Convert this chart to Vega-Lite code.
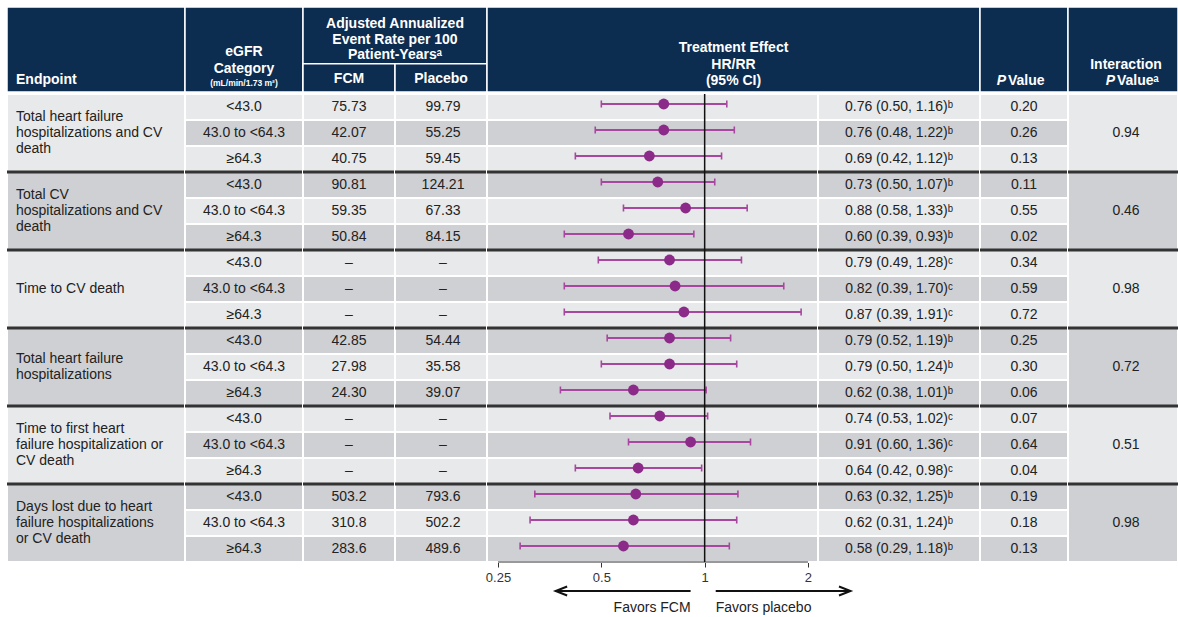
{
"$schema": "https://vega.github.io/schema/vega-lite/v6.json",
"padding": {"left": 5, "top": 6, "right": 0, "bottom": 0},
"background": "white",
"config": {
  "view": {"stroke": null},
  "font": "Liberation Sans",
  "concat": {"spacing": 0},
  "text": {"font": "Liberation Sans", "fontSize": 14, "color": "#222222", "lineBreak": "\n"}
},
"datasets": {
  "rows": [
    {"row": 1, "grp": 1, "sub": "<43.0", "fcm": "75.73", "pbo": "99.79", "hr": 0.76, "lo": 0.50, "hi": 1.16, "est": "0.76 (0.50, 1.16)ᵇ", "p": "0.20"},
    {"row": 2, "grp": 1, "sub": "43.0 to <64.3", "fcm": "42.07", "pbo": "55.25", "hr": 0.76, "lo": 0.48, "hi": 1.22, "est": "0.76 (0.48, 1.22)ᵇ", "p": "0.26"},
    {"row": 3, "grp": 1, "sub": "≥64.3", "fcm": "40.75", "pbo": "59.45", "hr": 0.69, "lo": 0.42, "hi": 1.12, "est": "0.69 (0.42, 1.12)ᵇ", "p": "0.13"},
    {"row": 4, "grp": 2, "sub": "<43.0", "fcm": "90.81", "pbo": "124.21", "hr": 0.73, "lo": 0.50, "hi": 1.07, "est": "0.73 (0.50, 1.07)ᵇ", "p": "0.11"},
    {"row": 5, "grp": 2, "sub": "43.0 to <64.3", "fcm": "59.35", "pbo": "67.33", "hr": 0.88, "lo": 0.58, "hi": 1.33, "est": "0.88 (0.58, 1.33)ᵇ", "p": "0.55"},
    {"row": 6, "grp": 2, "sub": "≥64.3", "fcm": "50.84", "pbo": "84.15", "hr": 0.60, "lo": 0.39, "hi": 0.93, "est": "0.60 (0.39, 0.93)ᵇ", "p": "0.02"},
    {"row": 7, "grp": 3, "sub": "<43.0", "fcm": "–", "pbo": "–", "hr": 0.79, "lo": 0.49, "hi": 1.28, "est": "0.79 (0.49, 1.28)ᶜ", "p": "0.34"},
    {"row": 8, "grp": 3, "sub": "43.0 to <64.3", "fcm": "–", "pbo": "–", "hr": 0.82, "lo": 0.39, "hi": 1.70, "est": "0.82 (0.39, 1.70)ᶜ", "p": "0.59"},
    {"row": 9, "grp": 3, "sub": "≥64.3", "fcm": "–", "pbo": "–", "hr": 0.87, "lo": 0.39, "hi": 1.91, "est": "0.87 (0.39, 1.91)ᶜ", "p": "0.72"},
    {"row": 10, "grp": 4, "sub": "<43.0", "fcm": "42.85", "pbo": "54.44", "hr": 0.79, "lo": 0.52, "hi": 1.19, "est": "0.79 (0.52, 1.19)ᵇ", "p": "0.25"},
    {"row": 11, "grp": 4, "sub": "43.0 to <64.3", "fcm": "27.98", "pbo": "35.58", "hr": 0.79, "lo": 0.50, "hi": 1.24, "est": "0.79 (0.50, 1.24)ᵇ", "p": "0.30"},
    {"row": 12, "grp": 4, "sub": "≥64.3", "fcm": "24.30", "pbo": "39.07", "hr": 0.62, "lo": 0.38, "hi": 1.01, "est": "0.62 (0.38, 1.01)ᵇ", "p": "0.06"},
    {"row": 13, "grp": 5, "sub": "<43.0", "fcm": "–", "pbo": "–", "hr": 0.74, "lo": 0.53, "hi": 1.02, "est": "0.74 (0.53, 1.02)ᶜ", "p": "0.07"},
    {"row": 14, "grp": 5, "sub": "43.0 to <64.3", "fcm": "–", "pbo": "–", "hr": 0.91, "lo": 0.60, "hi": 1.36, "est": "0.91 (0.60, 1.36)ᶜ", "p": "0.64"},
    {"row": 15, "grp": 5, "sub": "≥64.3", "fcm": "–", "pbo": "–", "hr": 0.64, "lo": 0.42, "hi": 0.98, "est": "0.64 (0.42, 0.98)ᶜ", "p": "0.04"},
    {"row": 16, "grp": 6, "sub": "<43.0", "fcm": "503.2", "pbo": "793.6", "hr": 0.63, "lo": 0.32, "hi": 1.25, "est": "0.63 (0.32, 1.25)ᵇ", "p": "0.19"},
    {"row": 17, "grp": 6, "sub": "43.0 to <64.3", "fcm": "310.8", "pbo": "502.2", "hr": 0.62, "lo": 0.31, "hi": 1.24, "est": "0.62 (0.31, 1.24)ᵇ", "p": "0.18"},
    {"row": 18, "grp": 6, "sub": "≥64.3", "fcm": "283.6", "pbo": "489.6", "hr": 0.58, "lo": 0.29, "hi": 1.18, "est": "0.58 (0.29, 1.18)ᵇ", "p": "0.13"}
  ],
  "groups": [
    {"grp": 1, "nl": 3, "endpoint": "Total heart failure\nhospitalizations and CV\ndeath", "pint": "0.94"},
    {"grp": 2, "nl": 3, "endpoint": "Total CV\nhospitalizations and CV\ndeath", "pint": "0.46"},
    {"grp": 3, "nl": 1, "endpoint": "Time to CV death", "pint": "0.98"},
    {"grp": 4, "nl": 2, "endpoint": "Total heart failure\nhospitalizations", "pint": "0.72"},
    {"grp": 5, "nl": 3, "endpoint": "Time to first heart\nfailure hospitalization or\nCV death", "pint": "0.51"},
    {"grp": 6, "nl": 3, "endpoint": "Days lost due to heart\nfailure hospitalizations\nor CV death", "pint": "0.98"}
  ],
  "hdr": [
    {"col": "endpoint", "text": "Endpoint"},
    {"col": "egfr", "text": "eGFR\nCategory"},
    {"col": "egfrunit", "text": "(mL/min/1.73 m²)"},
    {"col": "rates", "text": "Adjusted Annualized\nEvent Rate per 100\nPatient-Yearsᵃ"},
    {"col": "fcm", "text": "FCM"},
    {"col": "placebo", "text": "Placebo"},
    {"col": "effect", "text": "Treatment Effect\nHR/RR\n(95% CI)"},
    {"col": "p", "text": "P"},
    {"col": "pv", "text": "Value"},
    {"col": "int", "text": "Interaction"},
    {"col": "intp", "text": "P"},
    {"col": "intpv", "text": "Valueᵃ"}
  ],
  "ref": [{"hr": 1}],
  "foot": [
    {"part": "arrow", "side": "FCM", "from": 0.91, "to": 0.368},
    {"part": "arrow", "side": "placebo", "from": 1.077, "to": 2.66},
    {"part": "label", "side": "FCM", "text": "Favors FCM", "at": 0.91},
    {"part": "label", "side": "placebo", "text": "Favors placebo", "at": 1.077}
  ]
},
"vconcat": [
  {
    "hconcat": [
      {
        "width": 178, "height": 85,
        "view": {"fill": "#0c2c50", "stroke": "white", "strokeWidth": 1.5},
        "data": {"name": "hdr"},
        "transform": [{"filter": "datum.col === 'endpoint'"}],
        "mark": {"type": "text", "align": "left", "dx": -80, "dy": 30.5, "fontWeight": "bold", "fontSize": 14, "color": "white"},
        "encoding": {"text": {"field": "text"}}
      },
      {
        "width": 118, "height": 85,
        "view": {"fill": "#0c2c50", "stroke": "white", "strokeWidth": 1.5},
        "data": {"name": "hdr"},
        "layer": [
          {
            "transform": [{"filter": "datum.col === 'egfr'"}],
            "mark": {"type": "text", "dy": 2.2, "lineHeight": 17.6, "fontWeight": "bold", "fontSize": 14, "color": "white"},
            "encoding": {"text": {"field": "text"}}
          },
          {
            "transform": [{"filter": "datum.col === 'egfrunit'"}],
            "mark": {"type": "text", "dy": 33.8, "fontWeight": "bold", "fontSize": 8.5, "color": "white"},
            "encoding": {"text": {"field": "text"}}
          }
        ]
      },
      {
        "width": 184, "height": 85,
        "view": {"fill": "#0c2c50", "stroke": "white", "strokeWidth": 1.5},
        "data": {"name": "hdr"},
        "layer": [
          {
            "transform": [{"filter": "datum.col === 'rates'"}],
            "mark": {"type": "text", "dy": -25.5, "lineHeight": 15.6, "fontWeight": "bold", "fontSize": 14, "color": "white"},
            "encoding": {"text": {"field": "text"}}
          },
          {
            "transform": [{"filter": "datum.col === 'fcm' || datum.col === 'placebo'"}],
            "mark": {"type": "rect", "fill": "#0c2c50", "stroke": "white", "strokeWidth": 1.5},
            "encoding": {
              "x": {"field": "col", "type": "nominal", "scale": {"domain": ["fcm", "placebo"], "paddingInner": 0, "paddingOuter": 0}, "axis": null},
              "y": {"datum": "sub", "type": "nominal", "scale": {"domain": ["t1", "t2", "sub"], "paddingInner": 0, "paddingOuter": 0}, "axis": null}
            }
          },
          {
            "transform": [{"filter": "datum.col === 'fcm' || datum.col === 'placebo'"}],
            "mark": {"type": "text", "dy": 1.5, "fontWeight": "bold", "fontSize": 14, "color": "white"},
            "encoding": {
              "x": {"field": "col", "type": "nominal", "axis": null},
              "y": {"datum": "sub", "type": "nominal", "axis": null},
              "text": {"field": "text"}
            }
          }
        ]
      },
      {
        "width": 493, "height": 85,
        "view": {"fill": "#0c2c50", "stroke": "white", "strokeWidth": 1.5},
        "data": {"name": "hdr"},
        "transform": [{"filter": "datum.col === 'effect'"}],
        "mark": {"type": "text", "dy": -1.2, "lineHeight": 16.4, "fontWeight": "bold", "fontSize": 14, "color": "white"},
        "encoding": {"text": {"field": "text"}}
      },
      {
        "width": 88, "height": 85,
        "view": {"fill": "#0c2c50", "stroke": "white", "strokeWidth": 1.5},
        "data": {"name": "hdr"},
        "layer": [
          {
            "transform": [{"filter": "datum.col === 'p'"}],
            "mark": {"type": "text", "align": "right", "dx": -18, "dy": 31.5, "fontWeight": "bold", "fontStyle": "italic", "fontSize": 14, "color": "white"},
            "encoding": {"text": {"field": "text"}}
          },
          {
            "transform": [{"filter": "datum.col === 'pv'"}],
            "mark": {"type": "text", "align": "left", "dx": -16, "dy": 31.5, "fontWeight": "bold", "fontSize": 14, "color": "white"},
            "encoding": {"text": {"field": "text"}}
          }
        ]
      },
      {
        "width": 110, "height": 85,
        "view": {"fill": "#0c2c50", "stroke": "white", "strokeWidth": 1.5},
        "data": {"name": "hdr"},
        "layer": [
          {
            "transform": [{"filter": "datum.col === 'int'"}],
            "mark": {"type": "text", "dx": 3, "dy": 15.5, "fontWeight": "bold", "fontSize": 14, "color": "white"},
            "encoding": {"text": {"field": "text"}}
          },
          {
            "transform": [{"filter": "datum.col === 'intp'"}],
            "mark": {"type": "text", "align": "right", "dx": -8, "dy": 31.5, "fontWeight": "bold", "fontStyle": "italic", "fontSize": 14, "color": "white"},
            "encoding": {"text": {"field": "text"}}
          },
          {
            "transform": [{"filter": "datum.col === 'intpv'"}],
            "mark": {"type": "text", "align": "left", "dx": -6, "dy": 31.5, "fontWeight": "bold", "fontSize": 14, "color": "white"},
            "encoding": {"text": {"field": "text"}}
          }
        ]
      }
    ],
    "spacing": 0, "bounds": "flush"
  },
  {
    "hconcat": [
      {
        "width": 178, "height": 468,
        "data": {"name": "groups"},
        "layer": [
          {
            "mark": {"type": "rect", "stroke": "white", "strokeWidth": 2},
            "encoding": {
              "y": {"field": "grp", "type": "ordinal", "scale": {"domain": [1,2,3,4,5,6], "paddingInner": 0, "paddingOuter": 0}, "axis": null},
              "fill": {"condition": {"test": "datum.grp % 2 === 0", "value": "#cfd0d3"}, "value": "#e8e9ea"}
            }
          },
          {
            "transform": [{"filter": "datum.nl === 3"}],
            "mark": {"type": "text", "align": "left", "dx": -80, "dy": -16, "lineHeight": 16.2, "fontSize": 14, "color": "#222222"},
            "encoding": {
              "y": {"field": "grp", "type": "ordinal", "axis": null},
              "text": {"field": "endpoint"}
            }
          },
          {
            "transform": [{"filter": "datum.nl === 2"}],
            "mark": {"type": "text", "align": "left", "dx": -80, "dy": -8, "lineHeight": 16.2, "fontSize": 14, "color": "#222222"},
            "encoding": {
              "y": {"field": "grp", "type": "ordinal", "axis": null},
              "text": {"field": "endpoint"}
            }
          },
          {
            "transform": [{"filter": "datum.nl === 1"}],
            "mark": {"type": "text", "align": "left", "dx": -80, "fontSize": 14, "color": "#222222"},
            "encoding": {
              "y": {"field": "grp", "type": "ordinal", "axis": null},
              "text": {"field": "endpoint"}
            }
          },
          {
            "transform": [{"filter": "datum.grp > 1"}],
            "mark": {"type": "rule", "color": "#333333", "strokeWidth": 3},
            "encoding": {
              "y": {"field": "grp", "type": "ordinal", "bandPosition": 0, "axis": null}
            }
          }
        ]
      },
      {
        "width": 118, "height": 468,
        "data": {"name": "rows"},
        "layer": [
          {
            "mark": {"type": "rect", "stroke": "white", "strokeWidth": 2},
            "encoding": {
              "y": {"field": "row", "type": "ordinal", "scale": {"domain": [1,2,3,4,5,6,7,8,9,10,11,12,13,14,15,16,17,18], "paddingInner": 0, "paddingOuter": 0}, "axis": null},
              "fill": {"condition": {"test": "datum.row % 2 === 0", "value": "#cfd0d3"}, "value": "#e8e9ea"}
            }
          },
          {
            "mark": {"type": "text", "fontSize": 14, "color": "#222222"},
            "encoding": {
              "y": {"field": "row", "type": "ordinal", "axis": null},
              "text": {"field": "sub"}
            }
          },
          {
            "transform": [{"filter": "datum.row > 1 && (datum.row - 1) % 3 === 0"}],
            "mark": {"type": "rule", "color": "#333333", "strokeWidth": 3},
            "encoding": {"y": {"field": "row", "type": "ordinal", "bandPosition": 0, "axis": null}}
          }
        ]
      },
      {
        "width": 92, "height": 468,
        "data": {"name": "rows"},
        "layer": [
          {
            "mark": {"type": "rect", "stroke": "white", "strokeWidth": 2},
            "encoding": {
              "y": {"field": "row", "type": "ordinal", "scale": {"domain": [1,2,3,4,5,6,7,8,9,10,11,12,13,14,15,16,17,18], "paddingInner": 0, "paddingOuter": 0}, "axis": null},
              "fill": {"condition": {"test": "datum.row % 2 === 0", "value": "#cfd0d3"}, "value": "#e8e9ea"}
            }
          },
          {
            "mark": {"type": "text", "fontSize": 14, "color": "#222222"},
            "encoding": {
              "y": {"field": "row", "type": "ordinal", "axis": null},
              "text": {"field": "fcm"}
            }
          },
          {
            "transform": [{"filter": "datum.row > 1 && (datum.row - 1) % 3 === 0"}],
            "mark": {"type": "rule", "color": "#333333", "strokeWidth": 3},
            "encoding": {"y": {"field": "row", "type": "ordinal", "bandPosition": 0, "axis": null}}
          }
        ]
      },
      {
        "width": 92, "height": 468,
        "data": {"name": "rows"},
        "layer": [
          {
            "mark": {"type": "rect", "stroke": "white", "strokeWidth": 2},
            "encoding": {
              "y": {"field": "row", "type": "ordinal", "scale": {"domain": [1,2,3,4,5,6,7,8,9,10,11,12,13,14,15,16,17,18], "paddingInner": 0, "paddingOuter": 0}, "axis": null},
              "fill": {"condition": {"test": "datum.row % 2 === 0", "value": "#cfd0d3"}, "value": "#e8e9ea"}
            }
          },
          {
            "mark": {"type": "text", "fontSize": 14, "color": "#222222", "dx": 2},
            "encoding": {
              "y": {"field": "row", "type": "ordinal", "axis": null},
              "text": {"field": "pbo"}
            }
          },
          {
            "transform": [{"filter": "datum.row > 1 && (datum.row - 1) % 3 === 0"}],
            "mark": {"type": "rule", "color": "#333333", "strokeWidth": 3},
            "encoding": {"y": {"field": "row", "type": "ordinal", "bandPosition": 0, "axis": null}}
          }
        ]
      },
      {
        "width": 331, "height": 468,
        "data": {"name": "rows"},
        "layer": [
          {
            "mark": {"type": "rect", "stroke": "white", "strokeWidth": 2},
            "encoding": {
              "y": {"field": "row", "type": "ordinal", "scale": {"domain": [1,2,3,4,5,6,7,8,9,10,11,12,13,14,15,16,17,18], "paddingInner": 0, "paddingOuter": 0}, "axis": null},
              "fill": {"condition": {"test": "datum.row % 2 === 0", "value": "#cfd0d3"}, "value": "#e8e9ea"}
            }
          },
          {
            "mark": {"type": "rule", "color": "#a8479f", "strokeWidth": 2, "yOffset": -3},
            "encoding": {
              "y": {"field": "row", "type": "ordinal", "axis": null},
              "x": {"field": "lo", "type": "quantitative",
                    "scale": {"type": "log", "domain": [0.2322, 2.139], "nice": false, "zero": false},
                    "axis": {"values": [0.25, 0.5, 1, 2], "format": "~g", "title": null, "domain": false, "grid": false, "ticks": true, "tickSize": 5, "tickColor": "#333333", "tickWidth": 1, "labelFontSize": 13, "labelColor": "#333333", "labelFont": "Liberation Sans", "labelPadding": 4}},
              "x2": {"field": "hi"}
            }
          },
          {
            "mark": {"type": "tick", "color": "#a8479f", "size": 7, "thickness": 1.6, "yOffset": -3, "opacity": 1},
            "encoding": {
              "y": {"field": "row", "type": "ordinal", "axis": null},
              "x": {"field": "lo", "type": "quantitative", "scale": {"type": "log", "domain": [0.2322, 2.139], "nice": false, "zero": false}, "axis": {"title": null}}
            }
          },
          {
            "mark": {"type": "tick", "color": "#a8479f", "size": 7, "thickness": 1.6, "yOffset": -3, "opacity": 1},
            "encoding": {
              "y": {"field": "row", "type": "ordinal", "axis": null},
              "x": {"field": "hi", "type": "quantitative", "scale": {"type": "log", "domain": [0.2322, 2.139], "nice": false, "zero": false}, "axis": {"title": null}}
            }
          },
          {
            "mark": {"type": "circle", "color": "#8c2a8a", "size": 118, "opacity": 1, "yOffset": -3},
            "encoding": {
              "y": {"field": "row", "type": "ordinal", "axis": null},
              "x": {"field": "hr", "type": "quantitative", "scale": {"type": "log", "domain": [0.2322, 2.139], "nice": false, "zero": false}, "axis": {"title": null}}
            }
          },
          {
            "transform": [{"filter": "datum.row > 1 && (datum.row - 1) % 3 === 0"}],
            "mark": {"type": "rule", "color": "#333333", "strokeWidth": 3},
            "encoding": {"y": {"field": "row", "type": "ordinal", "bandPosition": 0, "axis": null}}
          },
          {
            "transform": [{"filter": "datum.row === 18"}],
            "mark": {"type": "rule", "color": "#333333", "strokeWidth": 1},
            "encoding": {
              "y": {"field": "row", "type": "ordinal", "bandPosition": 1, "axis": null},
              "x": {"datum": 0.25, "type": "quantitative"},
              "x2": {"datum": 2}
            }
          },
          {
            "data": {"name": "ref"},
            "mark": {"type": "rule", "color": "#111111", "strokeWidth": 1.5},
            "encoding": {
              "x": {"field": "hr", "type": "quantitative", "scale": {"type": "log", "domain": [0.2322, 2.139], "nice": false, "zero": false}, "axis": {"title": null}}
            }
          }
        ]
      },
      {
        "width": 162, "height": 468,
        "data": {"name": "rows"},
        "layer": [
          {
            "mark": {"type": "rect", "stroke": "white", "strokeWidth": 2},
            "encoding": {
              "y": {"field": "row", "type": "ordinal", "scale": {"domain": [1,2,3,4,5,6,7,8,9,10,11,12,13,14,15,16,17,18], "paddingInner": 0, "paddingOuter": 0}, "axis": null},
              "fill": {"condition": {"test": "datum.row % 2 === 0", "value": "#cfd0d3"}, "value": "#e8e9ea"}
            }
          },
          {
            "mark": {"type": "text", "fontSize": 14, "color": "#222222"},
            "encoding": {
              "y": {"field": "row", "type": "ordinal", "axis": null},
              "text": {"field": "est"}
            }
          },
          {
            "transform": [{"filter": "datum.row > 1 && (datum.row - 1) % 3 === 0"}],
            "mark": {"type": "rule", "color": "#333333", "strokeWidth": 3},
            "encoding": {"y": {"field": "row", "type": "ordinal", "bandPosition": 0, "axis": null}}
          }
        ]
      },
      {
        "width": 88, "height": 468,
        "data": {"name": "rows"},
        "layer": [
          {
            "mark": {"type": "rect", "stroke": "white", "strokeWidth": 2},
            "encoding": {
              "y": {"field": "row", "type": "ordinal", "scale": {"domain": [1,2,3,4,5,6,7,8,9,10,11,12,13,14,15,16,17,18], "paddingInner": 0, "paddingOuter": 0}, "axis": null},
              "fill": {"condition": {"test": "datum.row % 2 === 0", "value": "#cfd0d3"}, "value": "#e8e9ea"}
            }
          },
          {
            "mark": {"type": "text", "fontSize": 14, "color": "#222222"},
            "encoding": {
              "y": {"field": "row", "type": "ordinal", "axis": null},
              "text": {"field": "p"}
            }
          },
          {
            "transform": [{"filter": "datum.row > 1 && (datum.row - 1) % 3 === 0"}],
            "mark": {"type": "rule", "color": "#333333", "strokeWidth": 3},
            "encoding": {"y": {"field": "row", "type": "ordinal", "bandPosition": 0, "axis": null}}
          }
        ]
      },
      {
        "width": 110, "height": 468,
        "data": {"name": "groups"},
        "layer": [
          {
            "mark": {"type": "rect", "stroke": "white", "strokeWidth": 2},
            "encoding": {
              "y": {"field": "grp", "type": "ordinal", "scale": {"domain": [1,2,3,4,5,6], "paddingInner": 0, "paddingOuter": 0}, "axis": null},
              "fill": {"condition": {"test": "datum.grp % 2 === 0", "value": "#cfd0d3"}, "value": "#e8e9ea"}
            }
          },
          {
            "mark": {"type": "text", "dx": 3, "fontSize": 14, "color": "#222222"},
            "encoding": {
              "y": {"field": "grp", "type": "ordinal", "axis": null},
              "text": {"field": "pint"}
            }
          },
          {
            "transform": [{"filter": "datum.grp > 1"}],
            "mark": {"type": "rule", "color": "#333333", "strokeWidth": 3},
            "encoding": {"y": {"field": "grp", "type": "ordinal", "bandPosition": 0, "axis": null}}
          }
        ]
      }
    ],
    "spacing": 0, "bounds": "flush"
  },
  {
    "hconcat": [
      {
        "width": 480, "height": 28,
        "data": {"values": [{}]},
        "mark": {"type": "text", "opacity": 0},
        "encoding": {}
      },
      {
        "width": 331, "height": 28,
        "data": {"name": "foot"},
        "layer": [
          {
            "transform": [{"filter": "datum.part === 'arrow'"}],
            "mark": {"type": "rule", "color": "#111111", "strokeWidth": 2},
            "encoding": {
              "y": {"field": "part", "type": "nominal", "scale": {"domain": ["arrow", "label"], "paddingInner": 0, "paddingOuter": 0}, "axis": null},
              "x": {"field": "from", "type": "quantitative", "scale": {"type": "log", "domain": [0.2322, 2.139], "nice": false, "zero": false}, "axis": null},
              "x2": {"field": "to"}
            }
          },
          {
            "transform": [{"filter": "datum.part === 'arrow'"}],
            "mark": {"type": "point", "filled": false, "color": "#111111", "strokeWidth": 2, "size": 100, "opacity": 1},
            "encoding": {
              "y": {"field": "part", "type": "nominal", "axis": null},
              "x": {"field": "to", "type": "quantitative", "axis": null},
              "shape": {"field": "side", "type": "nominal", "scale": {"domain": ["FCM", "placebo"], "range": ["M2.3,-0.9L0,0L2.3,0.9", "M-2.3,-0.9L0,0L-2.3,0.9"]}, "legend": null}
            }
          },
          {
            "transform": [{"filter": "datum.part === 'label' && datum.side === 'FCM'"}],
            "mark": {"type": "text", "align": "right", "dy": 3, "fontSize": 14, "color": "#222222"},
            "encoding": {
              "y": {"field": "part", "type": "nominal", "axis": null},
              "x": {"field": "at", "type": "quantitative", "axis": null},
              "text": {"field": "text"}
            }
          },
          {
            "transform": [{"filter": "datum.part === 'label' && datum.side === 'placebo'"}],
            "mark": {"type": "text", "align": "left", "dy": 3, "fontSize": 14, "color": "#222222"},
            "encoding": {
              "y": {"field": "part", "type": "nominal", "axis": null},
              "x": {"field": "at", "type": "quantitative", "axis": null},
              "text": {"field": "text"}
            }
          }
        ]
      }
    ],
    "spacing": 0, "bounds": "flush"
  }
],
"spacing": -2
}
